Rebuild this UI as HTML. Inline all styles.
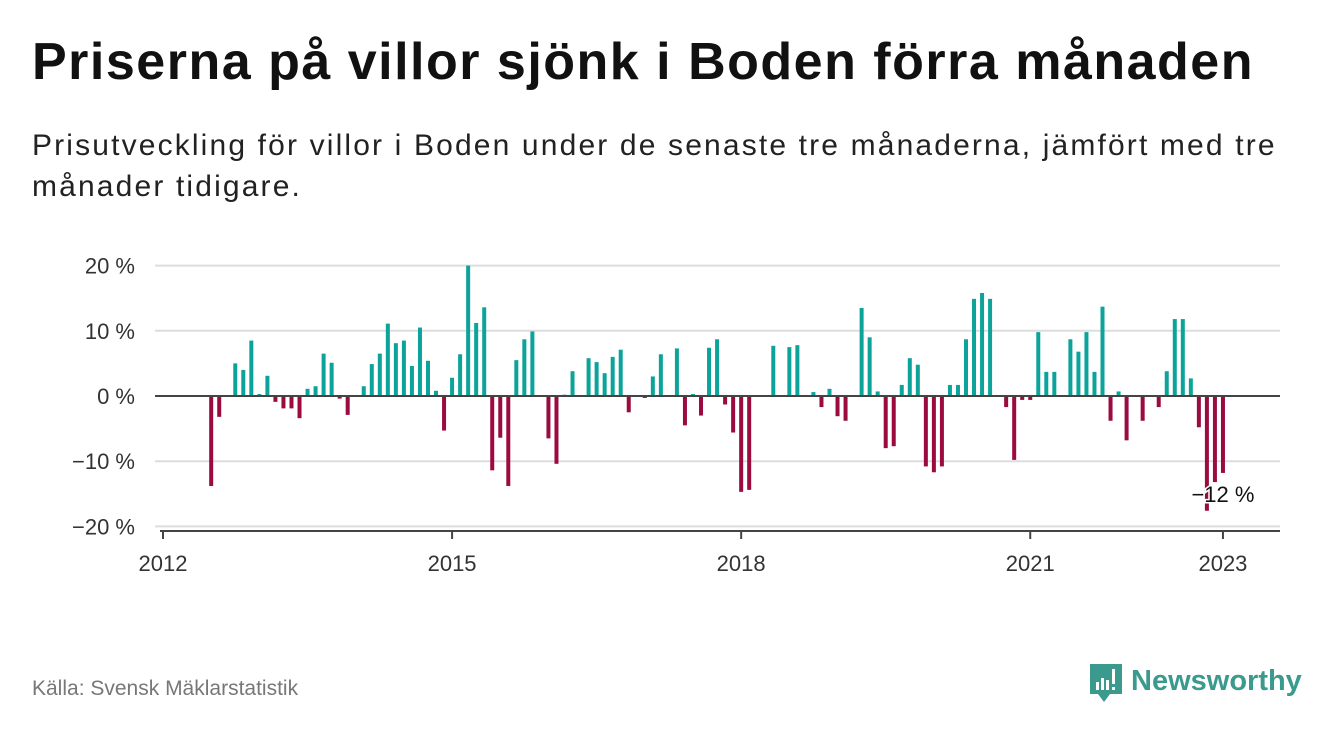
<!DOCTYPE html>
<html><head><meta charset="utf-8">
<style>
body{margin:0;width:1340px;height:734px;background:#fff;font-family:"Liberation Sans",sans-serif;overflow:hidden;position:relative}
h1{position:absolute;left:32px;top:32px;margin:0;font-size:52px;letter-spacing:1.5px;font-weight:bold;color:#111;white-space:nowrap}
.sub{position:absolute;left:32px;top:125px;font-size:30px;letter-spacing:2.15px;line-height:41px;color:#222;white-space:nowrap}
.src{position:absolute;left:32px;top:677px;font-size:21px;color:#777}
.logo{position:absolute;left:1088px;top:662px}
</style></head><body>
<h1>Priserna på villor sjönk i Boden förra månaden</h1>
<div class="sub">Prisutveckling för villor i Boden under de senaste tre månaderna, jämfört med tre<br>månader tidigare.</div>
<svg id="chart" width="1340" height="734" style="position:absolute;left:0;top:0"></svg>
<div class="src">Källa: Svensk Mäklarstatistik</div>
<svg class="logo" width="230" height="44">
<path d="M2 2h32v30h-12l-6 8l-6-8h-8z" fill="#3a9a8e"/>
<rect x="8" y="20" width="3" height="8" fill="#fff"/><rect x="13" y="16" width="3" height="12" fill="#fff"/><rect x="18" y="18" width="3" height="10" fill="#fff"/><rect x="24" y="7" width="3" height="15" fill="#fff"/><rect x="24" y="25" width="3" height="3" fill="#fff"/>
<text x="43" y="28" font-family="Liberation Sans,sans-serif" font-weight="bold" font-size="29" fill="#3a9a8e">Newsworthy</text>
</svg>
<script>
const startIndex = 6;
const values = [-13.8,-3.2,0,5.0,4.0,8.5,0.3,3.1,-0.9,-1.9,-1.9,-3.4,1.1,1.5,6.5,5.1,-0.4,-2.9,0,1.5,4.9,6.5,11.1,8.1,8.5,4.6,10.5,5.4,0.8,-5.3,2.8,6.4,20,11.2,13.6,-11.4,-6.4,-13.8,5.5,8.7,9.9,0,-6.5,-10.4,0.2,3.8,0,5.8,5.2,3.5,6.0,7.1,-2.5,0,-0.3,3.0,6.4,0,7.3,-4.5,0.3,-3.0,7.4,8.7,-1.3,-5.6,-14.7,-14.4,0,0,7.7,0,7.5,7.8,0,0.6,-1.7,1.1,-3.1,-3.8,0,13.5,9.0,0.7,-8.0,-7.7,1.7,5.8,4.8,-10.8,-11.7,-10.8,1.7,1.7,8.7,14.9,15.8,14.9,0,-1.7,-9.8,-0.6,-0.6,9.8,3.7,3.7,0,8.7,6.8,9.8,3.7,13.7,-3.8,0.7,-6.8,0,-3.8,0,-1.7,3.8,11.8,11.8,2.7,-4.8,-17.6,-13.2,-11.8];
const yTicks = [20,10,0,-10,-20];
const yTickLabels = ["20 %","10 %","0 %","−10 %","−20 %"];
const xTickMonths = [0,36,72,108,132];
const xTickLabels = ["2012","2015","2018","2021","2023"];
const lastLabel = "−12 %";

const NS="http://www.w3.org/2000/svg";
const svg=document.getElementById('chart');
const x=i=>163+i*8.03;
const y=v=>396-v*6.52;
function mk(t,a){const e=document.createElementNS(NS,t);for(const k in a)e.setAttribute(k,a[k]);svg.appendChild(e);return e;}
yTicks.forEach((t,k)=>{
  if(t!==0){const g=mk('line',{x1:155,x2:1280,y1:y(t),y2:y(t),stroke:'#ddd','stroke-width':2});
  
  }
  const l=mk('text',{x:135,y:y(t)+8,'text-anchor':'end','font-size':22,fill:'#333','font-family':'Liberation Sans,sans-serif'});
  l.textContent=yTickLabels[k];
  
  
});
values.forEach((v,k)=>{
  if(v===0)return;
  const i=startIndex+k;
  const r=mk('rect',{x:x(i)-2,y:Math.min(y(v),y(0)),width:4,height:Math.abs(y(v)-y(0)),fill:v>0?'#0ca49a':'#9b0b3f'});
  
  
});
const z=mk('line',{x1:155,x2:1280,y1:y(0),y2:y(0),stroke:'#444','stroke-width':2});


const ax=mk('line',{x1:160,x2:1280,y1:531,y2:531,stroke:'#444','stroke-width':2});


xTickMonths.forEach((m,k)=>{
  const t=mk('line',{x1:x(m),x2:x(m),y1:531,y2:539,stroke:'#444','stroke-width':2});
  
  
  const l=mk('text',{x:x(m),y:571,'text-anchor':'middle','font-size':22,fill:'#333','font-family':'Liberation Sans,sans-serif'});
  l.textContent=xTickLabels[k];
  
  
});
const lastI=startIndex+values.length-1;
const al=mk('text',{x:x(lastI),y:502,'text-anchor':'middle','font-size':22,fill:'#111',stroke:'#fff','stroke-width':3,'paint-order':'stroke','font-family':'Liberation Sans,sans-serif'});
al.textContent=lastLabel;


</script>
</body></html>
